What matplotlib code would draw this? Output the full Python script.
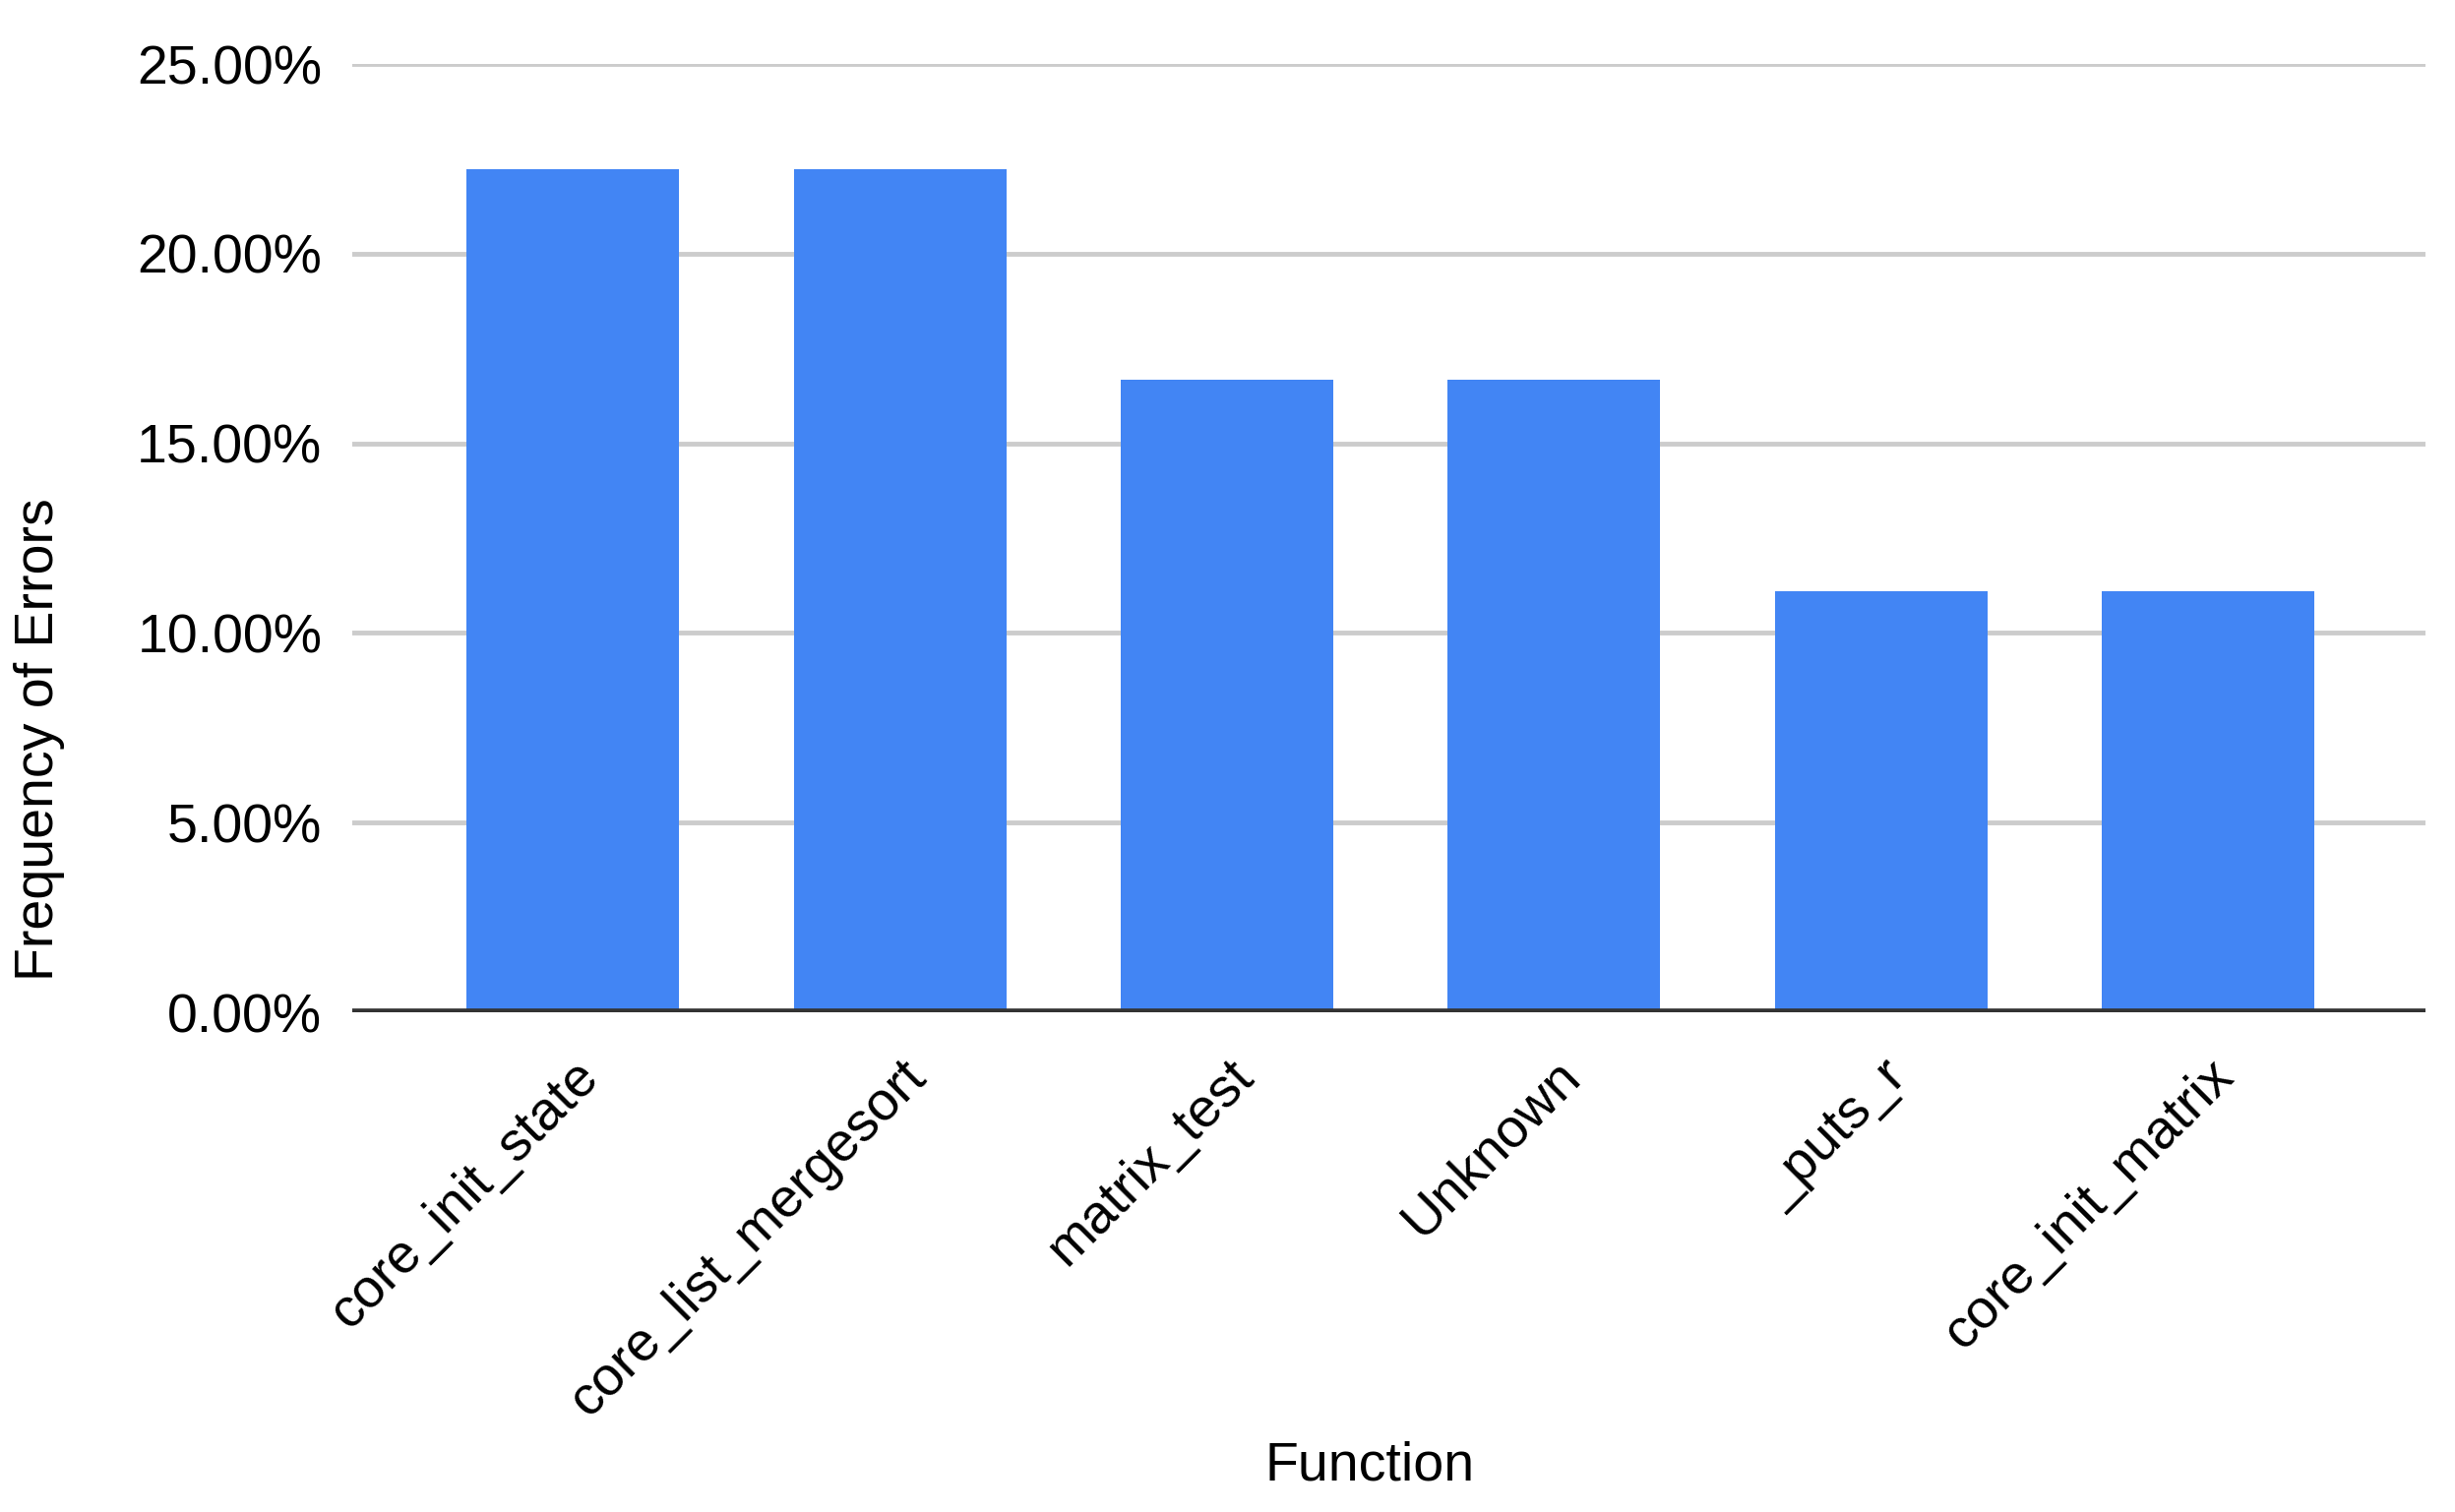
# Frequency of errors per function

import numpy as np
import matplotlib
matplotlib.use("Agg")
import matplotlib.pyplot as plt
from matplotlib.ticker import FuncFormatter

plt.rcParams['font.family'] = ['Liberation Sans', 'DejaVu Sans']

# data
functions = ['core_init_state', 'core_list_mergesort', 'matrix_test',
             'Unknown', '_puts_r', 'core_init_matrix']
freq = [0.2222, 0.2222, 0.1667, 0.1667, 0.1111, 0.1111]
yticks = [0.0, 0.05, 0.10, 0.15, 0.20, 0.25]

fig = plt.figure(figsize=(24.95, 15.37), dpi=100)
ax = fig.add_axes([0.1435, 0.3305, 0.8445, 0.6272])

x = np.arange(len(functions))
ax.bar(x, freq, width=0.65, color='#4285F4', zorder=3)

ax.set_xlim(-0.675, len(functions) - 1 + 0.665)
ax.set_ylim(0, 0.25)
ax.set_yticks(yticks)
ax.yaxis.set_major_formatter(FuncFormatter(lambda v, p: f'{v*100:.2f}%'))
ax.grid(axis='y', color='#cccccc', linewidth=3.5, zorder=0)
ax.axhline(0, color='#333333', linewidth=5.5, zorder=4)

for s in ax.spines.values():
    s.set_visible(False)
ax.tick_params(axis='both', length=0, labelsize=40, colors='black')
ax.tick_params(axis='y', pad=22)
ax.tick_params(axis='x', pad=28)

ax.set_xticks(x)
ax.set_xticklabels(functions, rotation=45, ha='right', rotation_mode='anchor')

fig.text(0.558, 0.03, 'Function', fontsize=40, ha='center', va='center')
fig.text(0.016, 0.511, 'Frequency of Errors', fontsize=40, rotation=90,
         ha='center', va='center')

plt.savefig('out.png', dpi=100, facecolor='white')
